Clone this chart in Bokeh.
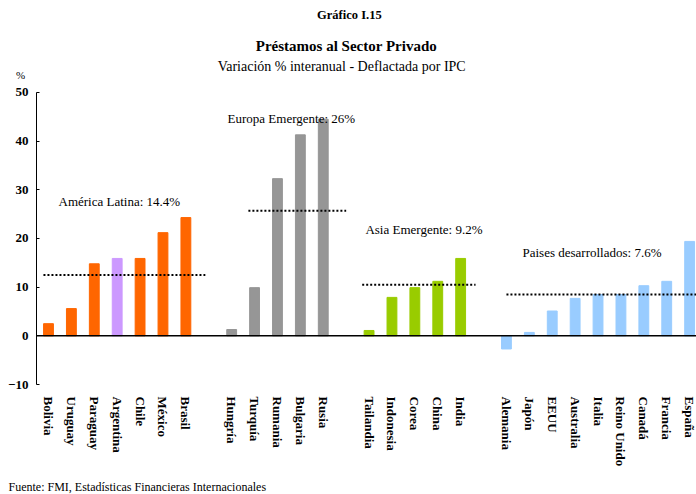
import math
from bokeh.plotting import figure
from bokeh.models import Range1d, LinearAxis, FixedTicker, Label, ColumnDataSource
from bokeh.core.properties import value
from bokeh.embed import file_html
from bokeh.resources import INLINE

# ---- data ----
latam = ["Bolivia", "Uruguay", "Paraguay", "Argentina", "Chile", "México", "Brasil"]
latam_vals = [2.5, 5.6, 14.8, 15.9, 15.9, 21.2, 24.3]
europa = ["Hungría", "Turquía", "Rumania", "Bulgaria", "Rusia"]
europa_vals = [1.3, 9.9, 32.3, 41.3, 44.5]
asia = ["Tailandia", "Indonesia", "Corea", "China", "India"]
asia_vals = [1.1, 7.9, 9.9, 11.2, 15.9]
desarr = ["Alemania", "Japón", "EEUU", "Australia", "Italia", "Reino Unido", "Canadá", "Francia", "España"]
desarr_vals = [-2.7, 0.7, 5.1, 7.7, 8.5, 8.5, 10.3, 11.2, 19.4]
group_labels = ["América Latina: 14.4%", "Europa Emergente: 26%", "Asia Emergente: 9.2%", "Paises desarrollados: 7.6%"]
group_avg_lines = [12.5, 25.7, 10.5, 8.5]
y_ticks = [-10, 0, 10, 20, 30, 40, 50]
y_min, y_max = -10, 50

FONT = "Liberation Serif"
colors = ["#FF6600", "#969696", "#99CC00", "#99CCFF"]
highlight = {"Argentina": "#CC99FF"}

groups = [(latam, latam_vals), (europa, europa_vals), (asia, asia_vals), (desarr, desarr_vals)]

xs, tops, cols, names = [], [], [], []
group_slots = []
slot = 0
for gi, (names_g, vals_g) in enumerate(groups):
    first = slot
    for n, v in zip(names_g, vals_g):
        xs.append(slot)
        tops.append(v)
        cols.append(highlight.get(n, colors[gi]))
        names.append(n)
        slot += 1
    group_slots.append((first, slot - 1))
    slot += 1  # gap

# frame covers whole canvas; axis is placed at a fixed location inside
X0, X1 = -2.096, 28.30      # left / right canvas edges in slot units
Y0, Y1 = -32.6, 68.9        # bottom / top canvas edges in value units
AXIS_X = -0.524

p = figure(width=696, height=494, output_backend="svg", toolbar_location=None,
           x_range=Range1d(X0, X1), y_range=Range1d(Y0, Y1),
           x_axis_location=None, y_axis_location=None,
           min_border_left=0, min_border_right=0, min_border_top=0, min_border_bottom=0)
p.outline_line_color = None
p.xgrid.visible = False
p.ygrid.visible = False
p.background_fill_color = "white"
p.border_fill_color = "white"

src = ColumnDataSource(dict(x=xs, top=tops, color=cols, name=names))
p.vbar(x="x", top="top", bottom=0, width=0.43, color="color", source=src)

# zero line from the axis to the right edge
p.line([AXIS_X, X1], [0, 0], line_color="black", line_width=1.5)

yax = LinearAxis(ticker=FixedTicker(ticks=y_ticks), bounds=(y_min, y_max), fixed_location=AXIS_X)
yax.axis_line_color = "black"
yax.axis_line_width = 1
yax.major_tick_in = 3
yax.major_tick_out = 0
yax.minor_tick_line_color = None
yax.major_label_standoff = 8
yax.major_label_text_font = FONT
yax.major_label_text_font_style = "bold"
yax.major_label_text_font_size = "13px"
yax.major_label_text_color = "black"
p.add_layout(yax, "left")

# category labels (rotated, reading top to bottom)
p.text(x="x", y=y_min, text="name", source=src, angle=-math.pi / 2,
       text_align="left", text_baseline="middle", y_offset=12,
       text_font=value(FONT), text_font_style="bold", text_font_size="13px", text_color="black")

# group average dotted lines
line_ext = [(-0.22, 0.85), (0.73, 1.0), (-0.3, 0.65), (0.0, 0.3)]
for (first, last), (a, b), yv in zip(group_slots, line_ext, group_avg_lines):
    p.line([first + a, last + b], [yv, yv], line_color="black", line_width=2, line_dash="2 2")

# group labels
lab_pos = [(0.437, 27.5), (7.82, 44.6), (13.84, 21.8), (20.7, 17.1)]
for (lx, ly), t in zip(lab_pos, group_labels):
    p.add_layout(Label(x=lx, y=ly, text=t, text_font=FONT, text_font_size="13px",
                       text_baseline="middle", text_align="left", text_color="black"))

# titles, unit sign and source
p.add_layout(Label(x=13.14, y=66.0, text="Gráfico I.15", text_font=FONT, text_font_style="bold",
                   text_font_size="12.5px", text_align="center", text_baseline="middle", text_color="black"))
p.add_layout(Label(x=13.01, y=59.45, text="Préstamos al Sector Privado", text_font=FONT, text_font_style="bold",
                   text_font_size="15px", text_align="center", text_baseline="middle", text_color="black"))
p.add_layout(Label(x=12.88, y=55.33, text="Variación % interanual  - Deflactada por IPC", text_font=FONT,
                   text_font_size="14px", text_align="center", text_baseline="middle", text_color="black"))
p.add_layout(Label(x=-1.22, y=53.69, text="%", text_font=FONT, text_font_size="11px",
                   text_align="center", text_baseline="middle", text_color="black"))
p.add_layout(Label(x=-1.747, y=-30.97, text="Fuente: FMI, Estadísticas Financieras Internacionales", text_font=FONT,
                   text_font_size="12px", text_align="left", text_baseline="middle", text_color="black"))

open("out.html", "w").write(file_html(p, INLINE))
